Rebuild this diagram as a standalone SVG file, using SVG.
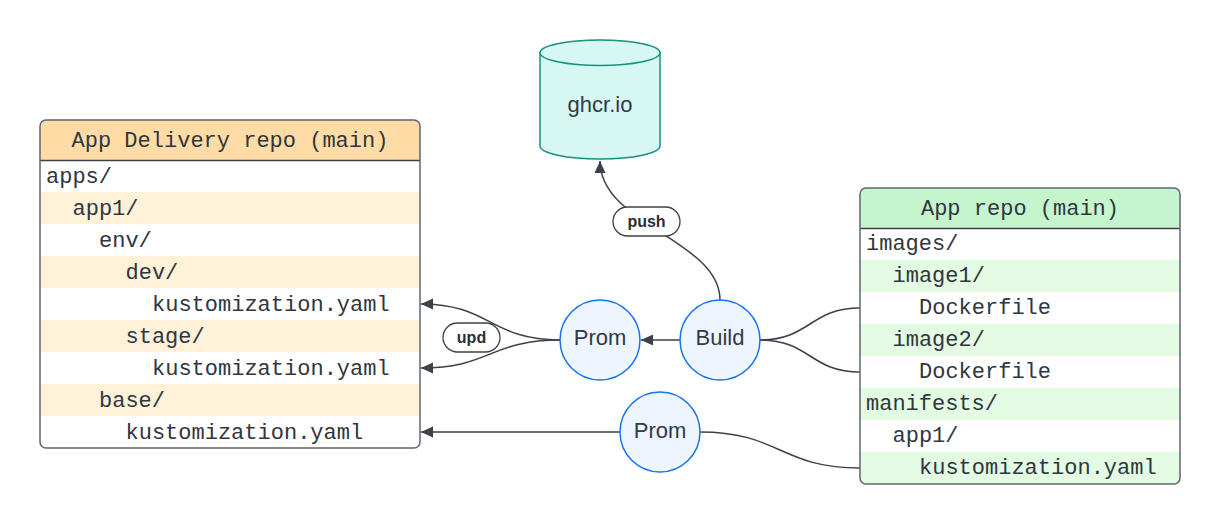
<svg xmlns="http://www.w3.org/2000/svg" width="1220" height="524" viewBox="0 0 1220 524">
<defs>
<style>
.mono{font-family:"Liberation Mono","DejaVu Sans Mono",monospace;font-size:22px;fill:#2f3640}
.sans{font-family:"Liberation Sans",Arial,sans-serif;font-size:22px;fill:#333a45;text-anchor:middle}
.lbl{font-family:"Liberation Sans",Arial,sans-serif;font-size:16px;font-weight:bold;fill:#2b2f36;text-anchor:middle}
.frame{fill:none;stroke:#5f6670;stroke-width:1.5}
.circ{fill:#edf5ff;stroke:#1a73e8;stroke-width:1.5}
.conn{fill:none;stroke:#3a414a;stroke-width:1.5}
.pill{fill:#fff;stroke:#3a414a;stroke-width:1.3}
</style>
<marker id="arr" markerUnits="userSpaceOnUse" markerWidth="14" markerHeight="12" refX="12" refY="6" orient="auto">
<path d="M0,0.5 L12,6 L0,11.5 Z" fill="#3a414a"/>
</marker>
<clipPath id="cl"><rect x="40" y="120" width="380" height="328" rx="6"/></clipPath>
<clipPath id="cr"><rect x="860" y="188" width="320" height="296" rx="6"/></clipPath>
</defs>
<rect width="1220" height="524" fill="#fff"/>

<g id="connectors">
<path class="conn" d="M680,340 L641,340" marker-end="url(#arr)"/>
<path class="conn" d="M560,340 C490,340 490,304 421,304" marker-end="url(#arr)"/>
<path class="conn" d="M560,340 C490,340 490,368 421,368" marker-end="url(#arr)"/>
<path class="conn" d="M620,432 L421,432" marker-end="url(#arr)"/>
<path class="conn" d="M720,300 C720,240 600,225 600,161" marker-end="url(#arr)"/>
<path class="conn" d="M760,340 C810,340 810,308 860,308"/>
<path class="conn" d="M760,340 C810,340 810,372 860,372"/>
<path class="conn" d="M700,432 C780,432 780,468 860,468"/>
<g id="lbl-upd"><rect class="pill" x="443" y="323" width="57" height="29" rx="14.5"/><text class="lbl" x="471.5" y="343">upd</text></g>
<g id="lbl-push"><rect class="pill" x="613" y="207" width="67" height="29" rx="14.5"/><text class="lbl" x="646.5" y="227">push</text></g>
</g>

<g id="ghcr">
<path d="M540,52.7 L540,146 A60,13 0 0 0 660,146 L660,52.7 Z" fill="#d6f7f2" stroke="#16917f" stroke-width="1.5"/>
<ellipse cx="600" cy="52.7" rx="60" ry="12.7" fill="#d6f7f2" stroke="#16917f" stroke-width="1.5"/>
<text class="sans" x="600" y="112">ghcr.io</text>
</g>

<g id="prom1"><circle class="circ" cx="600" cy="340" r="40"/><text class="sans" x="600" y="345">Prom</text></g>
<g id="build"><circle class="circ" cx="720" cy="340" r="40"/><text class="sans" x="720" y="345">Build</text></g>
<g id="prom2"><circle class="circ" cx="660" cy="432" r="40"/><text class="sans" x="660" y="437.5">Prom</text></g>

<g id="delivery-repo">
<g clip-path="url(#cl)">
<rect x="40" y="120" width="380" height="328" fill="#fff"/>
<rect x="40" y="120" width="380" height="40.5" fill="#ffdca5"/>
<rect x="40" y="192" width="380" height="32" fill="#fff2d9"/>
<rect x="40" y="256" width="380" height="32" fill="#fff2d9"/>
<rect x="40" y="320" width="380" height="32" fill="#fff2d9"/>
<rect x="40" y="384" width="380" height="32" fill="#fff2d9"/>
</g>
<line x1="40" y1="160.5" x2="420" y2="160.5" stroke="#3a414a" stroke-width="1.5"/>
<rect class="frame" x="40" y="120" width="380" height="328" rx="6"/>
<text class="mono" x="230" y="147" text-anchor="middle">App Delivery repo (main)</text>
<text class="mono" x="46" y="182.5">apps/</text>
<text class="mono" x="72.5" y="214.5">app1/</text>
<text class="mono" x="99" y="246.5">env/</text>
<text class="mono" x="125.5" y="278.5">dev/</text>
<text class="mono" x="152" y="310.5">kustomization.yaml</text>
<text class="mono" x="125.5" y="342.5">stage/</text>
<text class="mono" x="152" y="374.5">kustomization.yaml</text>
<text class="mono" x="99" y="406.5">base/</text>
<text class="mono" x="125.5" y="438.5">kustomization.yaml</text>
</g>

<g id="app-repo">
<g clip-path="url(#cr)">
<rect x="860" y="188" width="320" height="296" fill="#fff"/>
<rect x="860" y="188" width="320" height="40.5" fill="#c4f5cc"/>
<rect x="860" y="260" width="320" height="32" fill="#e3fae3"/>
<rect x="860" y="324" width="320" height="32" fill="#e3fae3"/>
<rect x="860" y="388" width="320" height="32" fill="#e3fae3"/>
<rect x="860" y="452" width="320" height="32" fill="#e3fae3"/>
</g>
<line x1="860" y1="228.5" x2="1180" y2="228.5" stroke="#3a414a" stroke-width="1.5"/>
<rect class="frame" x="860" y="188" width="320" height="296" rx="6"/>
<text class="mono" x="1020" y="215" text-anchor="middle">App repo (main)</text>
<text class="mono" x="866" y="250">images/</text>
<text class="mono" x="892.5" y="282">image1/</text>
<text class="mono" x="919" y="314">Dockerfile</text>
<text class="mono" x="892.5" y="346">image2/</text>
<text class="mono" x="919" y="378">Dockerfile</text>
<text class="mono" x="866" y="410">manifests/</text>
<text class="mono" x="892.5" y="442">app1/</text>
<text class="mono" x="919" y="474">kustomization.yaml</text>
</g>
</svg>
